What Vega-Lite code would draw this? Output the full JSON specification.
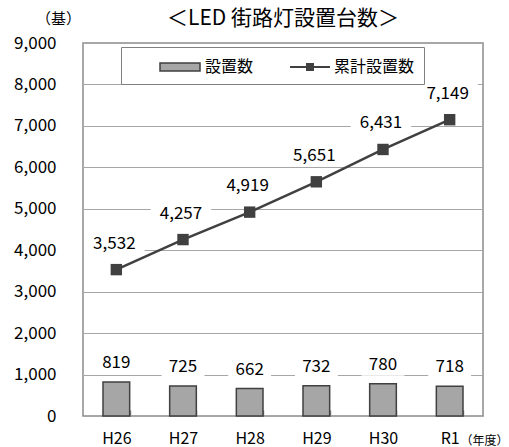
{
  "$schema": "https://vega.github.io/schema/vega-lite/v6.json",
  "width": 400,
  "height": 373,
  "autosize": {"type": "none"},
  "padding": {"left": 83, "top": 43, "right": 26, "bottom": 31},
  "background": "white",
  "config": {
    "font": "Noto Sans CJK JP",
    "view": {"stroke": "#8c8c8c", "strokeWidth": 1.5},
    "axis": {"labelColor": "black", "titleColor": "black", "titleFontWeight": "normal"}
  },
  "title": {"text": "＜LED 街路灯設置台数＞", "fontSize": 21, "fontWeight": "normal", "color": "black", "offset": 14, "dy": 32},
  "data": {
    "values": [
      {"year": "H26", "series": "設置数", "value": 819},
      {"year": "H27", "series": "設置数", "value": 725},
      {"year": "H28", "series": "設置数", "value": 662},
      {"year": "H29", "series": "設置数", "value": 732},
      {"year": "H30", "series": "設置数", "value": 780},
      {"year": "R1", "series": "設置数", "value": 718},
      {"year": "H26", "series": "累計設置数", "value": 3532},
      {"year": "H27", "series": "累計設置数", "value": 4257},
      {"year": "H28", "series": "累計設置数", "value": 4919},
      {"year": "H29", "series": "累計設置数", "value": 5651},
      {"year": "H30", "series": "累計設置数", "value": 6431},
      {"year": "R1", "series": "累計設置数", "value": 7149}
    ]
  },
  "encoding": {
    "x": {
      "field": "year", "type": "nominal", "sort": null,
      "scale": {"paddingInner": 0.6, "paddingOuter": 0.3},
      "axis": {
        "labelAngle": 0, "labelFontSize": 16, "labelPadding": 20,
        "domain": false, "ticks": true, "tickBand": "extent", "tickSize": -6,
        "tickColor": "#8c8c8c", "tickWidth": 1.5,
        "title": "（年度）", "titleFontSize": 12, "titleX": 401, "titleY": 24,
        "titleAlign": "center", "titleBaseline": "middle"
      }
    },
    "y": {
      "field": "value", "type": "quantitative",
      "scale": {"domain": [0, 9000], "nice": false},
      "axis": {
        "values": [0, 1000, 2000, 3000, 4000, 5000, 6000, 7000, 8000, 9000],
        "format": ",d", "labelFontSize": 17, "labelPadding": 27,
        "domain": false, "ticks": false,
        "grid": true, "gridColor": "#a6a6a6", "gridWidth": 1.2,
        "title": "（基）", "titleAngle": 0, "titleFontSize": 15,
        "titleX": -25, "titleY": -25, "titleAlign": "center", "titleBaseline": "middle"
      }
    }
  },
  "resolve": {"scale": {"color": "independent"}, "legend": {"color": "independent"}},
  "layer": [
    {
      "transform": [{"filter": "datum.series === '設置数'"}],
      "mark": {"type": "bar", "stroke": "#404040", "strokeWidth": 1.5},
      "encoding": {
        "color": {
          "field": "series", "type": "nominal",
          "scale": {"domain": ["設置数"], "range": ["#a6a6a6"]},
          "legend": {
            "title": null, "orient": "none", "legendX": 38, "legendY": 4,
            "padding": 9,
            "symbolType": "M-2,-0.4H2V0.4H-2Z",
            "symbolSize": 400, "symbolOffset": 39, "labelOffset": 14,
            "symbolStrokeColor": "#404040", "symbolStrokeWidth": 1.5,
            "labelFontSize": 16, "labelColor": "black"
          }
        }
      }
    },
    {
      "transform": [{"filter": "datum.series === '設置数'"}],
      "mark": {"type": "point", "shape": "M-1.95,-1H1.95V1H-1.95Z", "size": 484, "filled": true, "color": "white", "opacity": 1, "strokeWidth": 0, "yOffset": -19}
    },
    {
      "transform": [{"filter": "datum.series === '累計設置数'"}],
      "mark": {"type": "point", "shape": "M-2.75,-1H2.75V1H-2.75Z", "size": 484, "filled": true, "color": "white", "opacity": 1, "strokeWidth": 0, "yOffset": -26, "xOffset": -2}
    },
    {
      "transform": [{"filter": "datum.series === '累計設置数'"}],
      "mark": {"type": "line", "strokeWidth": 2.5},
      "encoding": {
        "color": {
          "field": "series", "type": "nominal",
          "scale": {"domain": ["累計設置数"], "range": ["#404040"]},
          "legend": {
            "title": null, "orient": "none", "legendX": 38, "legendY": 4,
            "padding": 9, "strokeColor": "#808080",
            "symbolType": "M-2,0H2M-0.3,-0.3H0.3V0.3H-0.3Z",
            "symbolSize": 400, "symbolOffset": 169, "labelOffset": 13,
            "symbolFillColor": "#404040", "symbolStrokeWidth": 2,
            "labelFontSize": 16, "labelColor": "black"
          }
        }
      }
    },
    {
      "transform": [{"filter": "datum.series === '累計設置数'"}],
      "mark": {"type": "point", "shape": "square", "size": 130, "filled": true, "color": "#404040", "opacity": 1}
    },
    {
      "transform": [{"filter": "datum.series === '設置数'"}],
      "mark": {"type": "text", "fontSize": 17, "baseline": "middle", "dy": -19, "color": "black"},
      "encoding": {"text": {"field": "value", "type": "quantitative", "format": ",d"}}
    },
    {
      "transform": [{"filter": "datum.series === '累計設置数'"}],
      "mark": {"type": "text", "fontSize": 17, "baseline": "middle", "dy": -26, "dx": -2, "color": "black"},
      "encoding": {"text": {"field": "value", "type": "quantitative", "format": ",d"}}
    }
  ]
}
